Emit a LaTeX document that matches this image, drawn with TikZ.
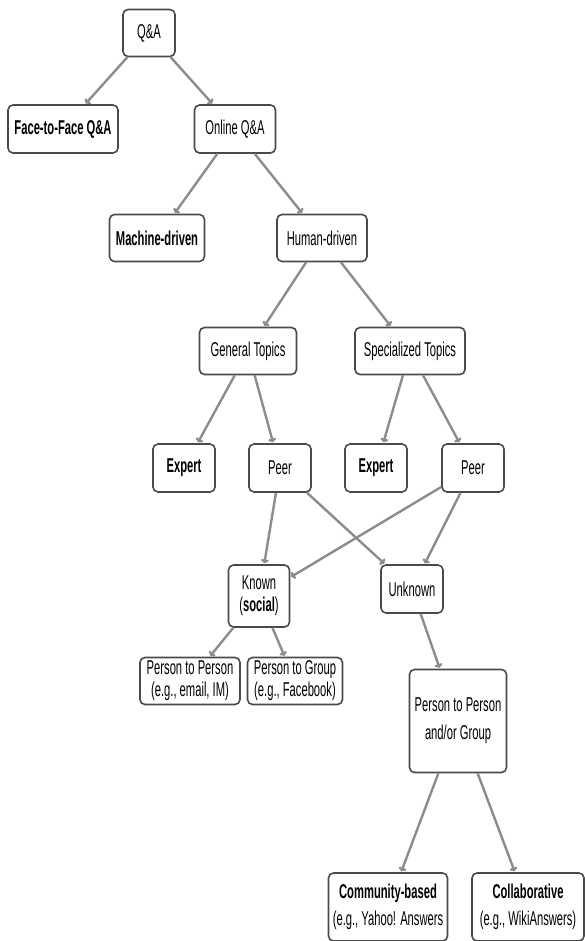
\documentclass[tikz,border=0pt]{standalone}
\usepackage{fontspec}
\setmainfont{Liberation Sans}[FakeStretch=0.56]
\usetikzlibrary{arrows.meta}
\definecolor{edgegray}{HTML}{8C8C8C}
\definecolor{boxgray}{HTML}{4A4A4A}
\begin{document}
\begin{tikzpicture}[x=1pt, y=1pt,
  box/.style={draw=boxgray, line width=1.6pt, rounded corners=5pt, align=center, inner sep=2pt, fill=white, font=\fontsize{20}{22}\selectfont},
  link/.style={draw=edgegray, line width=2.4pt, -{To[length=4pt,width=8pt]}, shorten >=1pt}]
\useasboundingbox (0,0) rectangle (584,-941);

\node[box, minimum width=52, minimum height=47] (qa) at (149,-33) {Q\&A};
\node[box, minimum width=110, minimum height=48] (face) at (63,-129) {\textbf{Face-to-Face Q\&A}};
\node[box, minimum width=81, minimum height=48] (online) at (235,-129) {Online Q\&A};

\node[box, minimum width=95, minimum height=47] (machine) at (157,-238) {\textbf{Machine-driven}};
\node[box, minimum width=90, minimum height=47] (human) at (322,-238) {Human-driven};

\node[box, minimum width=97, minimum height=47] (general) at (248,-351) {General Topics};
\node[box, minimum width=110, minimum height=47] (special) at (410,-351) {Specialized Topics};

\node[box, minimum width=62, minimum height=48] (expertA) at (184,-468) {\textbf{Expert}};
\node[box, minimum width=62, minimum height=48] (peerA) at (280,-468) {Peer};
\node[box, minimum width=62, minimum height=48] (expertB) at (376,-468) {\textbf{Expert}};
\node[box, minimum width=62, minimum height=48] (peerB) at (473,-468) {Peer};

\node[box, minimum width=61, minimum height=62] (known) at (259,-596) {Known\\(\textbf{social})};
\node[box, minimum width=62, minimum height=48] (unknown) at (412,-589) {Unknown};

\node[box, minimum width=100, minimum height=47] (ptp) at (190,-681) {Person to Person\\(e.g., email, IM)};
\node[box, minimum width=95, minimum height=47] (ptg) at (295,-681) {Person to Group\\(e.g., Facebook)};
\node[box, minimum width=97, minimum height=103] (ptpg) at (458,-721) {Person to Person\\[6pt]and/or Group};

\node[box, minimum width=119, minimum height=68] (community) at (388,-907) {\textbf{Community-based}\\[5pt](e.g., Yahoo! Answers};
\node[box, minimum width=112, minimum height=68] (collab) at (528,-907) {\textbf{Collaborative}\\[5pt](e.g., WikiAnswers)};

\draw[link] (qa) -- (face);
\draw[link] (qa) -- (online);
\draw[link] (online) -- (machine);
\draw[link] (online) -- (human);
\draw[link] (human) -- (general);
\draw[link] (human) -- (special);
\draw[link] (general) -- (expertA);
\draw[link] (general) -- (peerA);
\draw[link] (special) -- (expertB);
\draw[link] (special) -- (peerB);
\draw[link] (peerA) -- (known);
\draw[link] (peerA) -- (unknown);
\draw[link] (peerB) -- (known);
\draw[link] (peerB) -- (unknown);
\draw[link] (known) -- (ptp);
\draw[link] (known) -- (ptg);
\draw[link] (unknown) -- (ptpg);
\draw[link] (ptpg) -- (community);
\draw[link] (ptpg) -- (collab);
\end{tikzpicture}
\end{document}
